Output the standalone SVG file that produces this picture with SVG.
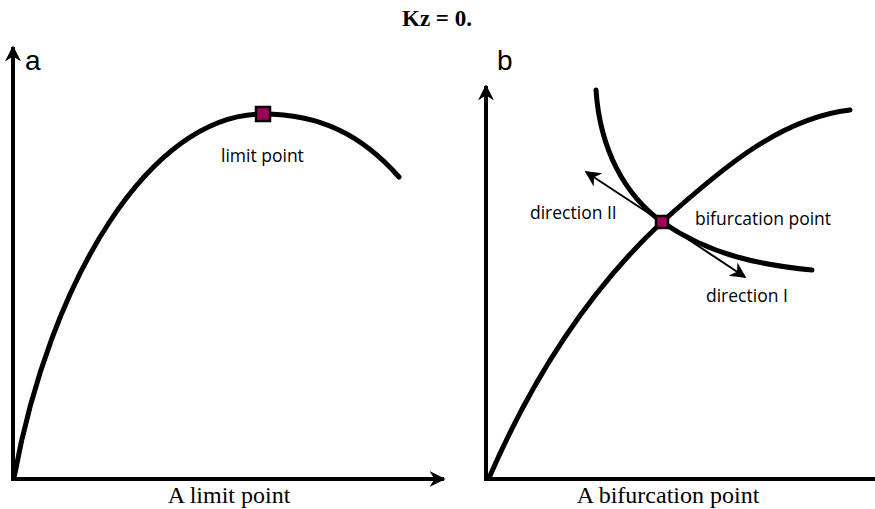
<svg xmlns="http://www.w3.org/2000/svg" width="875" height="509" viewBox="0 0 875 509">
<style>
.axis{stroke:#000;stroke-width:4;fill:none}
.curve{stroke:#000;stroke-width:5;fill:none;stroke-linecap:round}
.dir{stroke:#000;stroke-width:2;fill:none}
.pt{fill:#a0005a;stroke:#000;stroke-width:2.5}
.lbl{font-family:"Open Sans","Noto Sans",sans-serif;font-size:17.5px;fill:#000}
.pan{font-family:"Liberation Sans",Arial,sans-serif;font-size:28px;fill:#000}
.cap{font-family:"Liberation Serif","Times New Roman",serif;font-size:24px;fill:#000}
</style>
<defs>
<marker id="ah" viewBox="0 0 10 10" refX="9" refY="5" markerWidth="4" markerHeight="4" orient="auto" markerUnits="strokeWidth">
<path d="M0,0 L10,5 L0,10 L3,5 z" fill="#000"/>
</marker>
<marker id="ah2" viewBox="0 0 10 10" refX="9" refY="5" markerWidth="8" markerHeight="8" orient="auto" markerUnits="strokeWidth">
<path d="M0,0 L10,5 L0,10 L3,5 z" fill="#000"/>
</marker>
</defs>
<rect width="875" height="509" fill="#fff"/>
<text x="437" y="26" text-anchor="middle" font-family="Liberation Serif,serif" font-weight="bold" font-size="23">Kz = 0.</text>
<g id="connectors">
<path class="axis" d="M13,481 L13,47" marker-end="url(#ah)"/>
<path class="axis" d="M11,479 L444,479" marker-end="url(#ah)"/>
<path class="axis" d="M486,481 L486,86" marker-end="url(#ah)"/>
<path class="axis" d="M484,479 L875,479"/>
<path class="curve" d="M14,478 C50,280 150,114 263,114 C320,114 362,135 399,177"/>
<path class="curve" d="M489,478 C540,360 600,280 662,222 C720,170 780,118 850,110"/>
<path class="curve" d="M596,90 C600,150 625,195 662,222 C710,255 760,265 812,270"/>
<path class="dir" d="M662,222 L586,172" marker-end="url(#ah2)"/>
<path class="dir" d="M662,222 L745,277" marker-end="url(#ah2)"/>
</g>
<g id="panel-a"><text class="pan" x="25" y="70">a</text></g>
<g id="panel-b"><text class="pan" x="497" y="70">b</text></g>
<g id="limit-point">
<rect class="pt" x="256" y="107" width="14" height="14"/>
<text class="lbl" x="221" y="162">limit point</text>
</g>
<g id="bifurcation-point">
<rect class="pt" x="656" y="216" width="12" height="12"/>
<text class="lbl" x="695" y="225">bifurcation point</text>
</g>
<g id="direction-II"><text class="lbl" x="530" y="219">direction II</text></g>
<g id="direction-I"><text class="lbl" x="706" y="302">direction I</text></g>
<g id="caption-a"><text class="cap" x="229" y="503" text-anchor="middle">A limit point</text></g>
<g id="caption-b"><text class="cap" x="668" y="503" text-anchor="middle">A bifurcation point</text></g>
</svg>
